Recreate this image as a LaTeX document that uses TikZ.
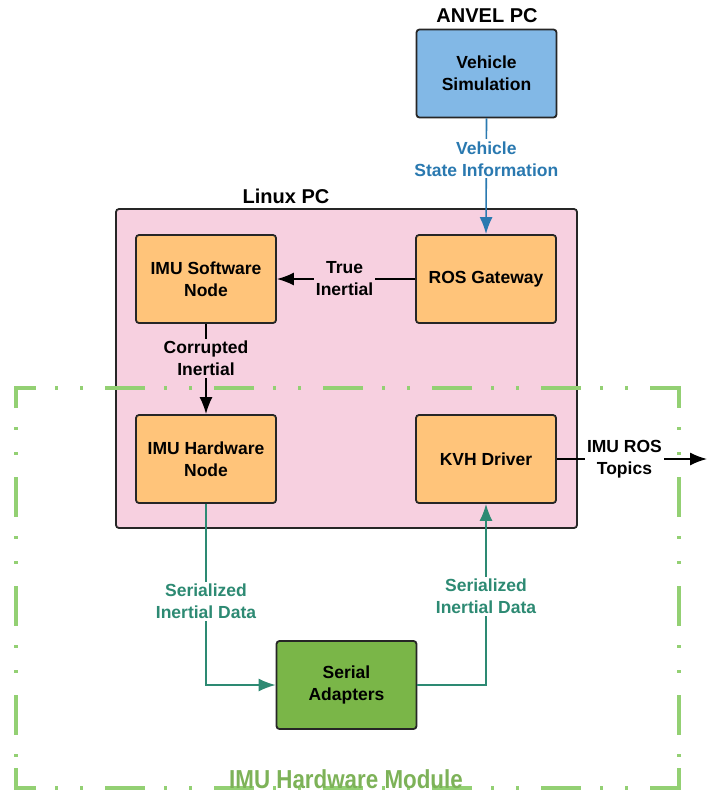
\documentclass[tikz,border=0pt]{standalone}
\usepackage{fontspec}
\setmainfont{Liberation Sans}
\usetikzlibrary{arrows.meta}
\definecolor{boxorange}{RGB}{255,196,122}
\definecolor{boxblue}{RGB}{130,184,230}
\definecolor{boxgreen}{RGB}{122,182,72}
\definecolor{pcpink}{RGB}{247,208,224}
\definecolor{lblblue}{RGB}{42,121,176}
\definecolor{lblteal}{RGB}{45,138,115}
\definecolor{modgreen}{RGB}{147,208,115}
\definecolor{modtext}{RGB}{125,178,88}
\tikzset{
  block/.style={draw=black!85, line width=1.8pt, rounded corners=3pt, align=center,
    minimum width=140pt, minimum height=88pt, inner sep=2pt},
  conn/.style={line width=1.6pt, -{Latex[length=17pt,width=13pt]}},
  lbl/.style={align=center, inner sep=2pt},
  title/.style={font=\bfseries\fontsize{20}{22}\selectfont},
  modline/.style={draw=modgreen, line width=3.5pt,
    dash pattern=on 40pt off 19pt on 3pt off 22pt on 3pt off 22pt, dash phase=20pt},
  modcorner/.style={draw=modgreen, line width=3.5pt}
}
\begin{document}
\begin{tikzpicture}[x=1pt,y=-1pt, font=\bfseries\fontsize{17.5}{22}\selectfont]
\useasboundingbox (0,0) rectangle (707,796);

% Linux PC container
\node[draw=black!85, fill=pcpink, line width=1.8pt, rounded corners=3pt,
  minimum width=461pt, minimum height=319pt, inner sep=0pt] (linux) at (346.5,368.5) {};
\node[title] (linuxlbl) at (286,196) {Linux PC};
\node[title] (anvellbl) at (487,16) {ANVEL PC};

% blocks
\node[block, fill=boxblue] (vs) at (486.5,73.5) {Vehicle\\Simulation};
\node[block, fill=boxorange] (isw) at (206,279) {IMU Software\\Node};
\node[block, fill=boxorange] (rg) at (486,279) {ROS Gateway};
\node[block, fill=boxorange] (ihw) at (206,459) {IMU Hardware\\Node};
\node[block, fill=boxorange] (kvh) at (486,459) {KVH Driver};
\node[block, fill=boxgreen] (sa) at (346.5,685) {Serial\\Adapters};
\coordinate (out) at (707,459);

% connectors
\draw[conn, lblblue] (vs.south) -- node[lbl, pos=0.35, fill=white, text=lblblue] {Vehicle\\State Information} (rg.north);
\draw[conn] (rg.west) -- node[lbl, pos=0.51, fill=pcpink] {True\\Inertial} (isw.east);
\draw[conn] (isw.south) -- node[lbl, pos=0.38, fill=pcpink] {Corrupted\\Inertial} (ihw.north);
\draw[conn] (kvh.east) -- node[lbl, pos=0.45, fill=white] {IMU ROS\\Topics} (out);
\draw[conn, lblteal] (ihw.south) |- node[lbl, pos=0.27, fill=white, text=lblteal] {Serialized\\Inertial Data} (sa.west);
\draw[conn, lblteal] (sa.east) -| node[lbl, pos=0.745, fill=white, text=lblteal] {Serialized\\Inertial Data} (kvh.south);

% IMU hardware module boundary (dash-dot)
\coordinate (m1) at (16,388);
\coordinate (m2) at (679,388);
\coordinate (m3) at (679,788);
\coordinate (m4) at (16,788);
\draw[modline] (m1) -- (m2);
\draw[modline] (m2) -- (m3);
\draw[modline] (m4) -- (m3);
\draw[modline] (m1) -- (m4);
\draw[modcorner] (16,408) -- (m1) -- (36,388);
\draw[modcorner] (659,388) -- (m2) -- (679,408);
\draw[modcorner] (679,768) -- (m3) -- (659,788);
\draw[modcorner] (36,788) -- (m4) -- (16,768);
\node[text=modtext, font=\bfseries\fontsize{26}{28}\selectfont, xscale=0.86] (modlbl) at (346,779) {IMU Hardware Module};
\end{tikzpicture}
\end{document}
